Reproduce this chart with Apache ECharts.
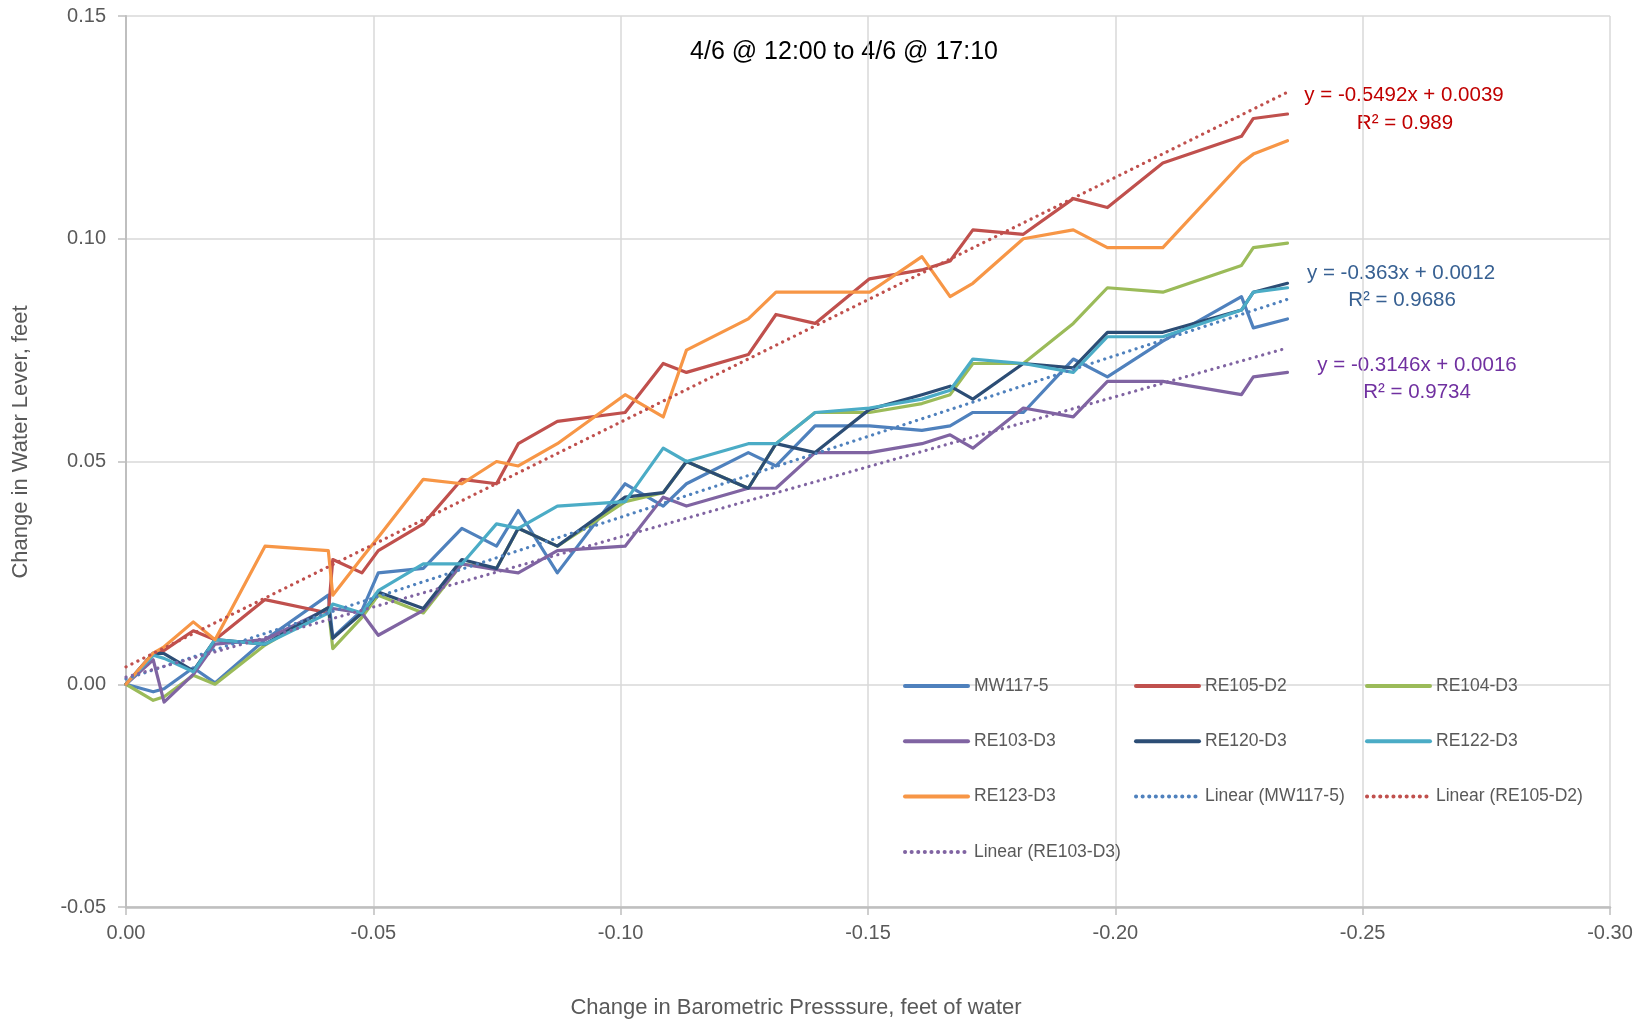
<!DOCTYPE html>
<html>
<head>
<meta charset="utf-8">
<script src="https://cdn.jsdelivr.net/npm/echarts@6/dist/echarts.min.js"></script>
<style>
html,body{margin:0;padding:0;background:#fff;}
#chart{width:1648px;height:1024px;}
</style>
</head>
<body>
<div id="chart"></div>
<script>
// Change in barometric pressure (feet of water) - shared x values
const xVals = [0, -0.0055, -0.0077, -0.0136, -0.018, -0.0281, -0.0409, -0.0418, -0.0477, -0.051,
  -0.0601, -0.0679, -0.0749, -0.0793, -0.0872, -0.1009, -0.1086, -0.1133, -0.1258, -0.1314,
  -0.1393, -0.1503, -0.1609, -0.1666, -0.1712, -0.1814, -0.1915, -0.1984, -0.2096, -0.2255,
  -0.2279, -0.2348];

// Change in water level (feet)
const mw117_5 = [0, -0.0017, -0.001, 0.0037, 0.0003, 0.010, 0.020, 0.0105, 0.0166, 0.025,
  0.026, 0.035, 0.031, 0.039, 0.025, 0.045, 0.040, 0.045, 0.052, 0.049,
  0.058, 0.058, 0.057, 0.058, 0.061, 0.061, 0.073, 0.069, 0.077, 0.087,
  0.080, 0.082];
const re105_d2 = [0, 0.0069, 0.0076, 0.012, 0.010, 0.019, 0.016, 0.028, 0.025, 0.030,
  0.036, 0.046, 0.045, 0.054, 0.059, 0.061, 0.072, 0.070, 0.074, 0.083,
  0.081, 0.091, 0.093, 0.095, 0.102, 0.101, 0.109, 0.107, 0.117, 0.123,
  0.127, 0.128];
const re104_d3 = [0, -0.0036, -0.0028, 0.002, 0, 0.0088, 0.0172, 0.008, 0.015, 0.020,
  0.016, 0.027, 0.026, 0.035, 0.031, 0.041, 0.043, 0.050, 0.044, 0.054,
  0.061, 0.061, 0.063, 0.065, 0.072, 0.072, 0.081, 0.089, 0.088, 0.094,
  0.098, 0.099];
const re103_d3 = [0, 0.0055, -0.004, 0.0022, 0.009, 0.010, 0.017, 0.017, 0.016, 0.011,
  0.0166, 0.027, 0.0257, 0.025, 0.030, 0.031, 0.042, 0.040, 0.044, 0.044,
  0.052, 0.052, 0.054, 0.056, 0.053, 0.062, 0.060, 0.068, 0.068, 0.065,
  0.069, 0.070];
const re120_d3 = [0, 0.007, 0.0069, 0.003, 0.010, 0.009, 0.0172, 0.0103, 0.016, 0.0207,
  0.017, 0.028, 0.026, 0.035, 0.031, 0.042, 0.043, 0.050, 0.044, 0.054,
  0.052, 0.0617, 0.065, 0.0669, 0.064, 0.072, 0.071, 0.079, 0.079, 0.084,
  0.088, 0.090];
const re122_d3 = [0, 0.0065, 0.0058, 0.0028, 0.010, 0.009, 0.016, 0.018, 0.016, 0.021,
  0.027, 0.027, 0.036, 0.035, 0.040, 0.041, 0.053, 0.050, 0.054, 0.054,
  0.061, 0.062, 0.064, 0.066, 0.073, 0.072, 0.070, 0.078, 0.078, 0.084,
  0.088, 0.089];
const re123_d3 = [0, 0.007, 0.0084, 0.014, 0.010, 0.031, 0.030, 0.020, 0.0284, 0.033,
  0.046, 0.045, 0.050, 0.049, 0.054, 0.065, 0.060, 0.075, 0.082, 0.088,
  0.088, 0.088, 0.096, 0.087, 0.090, 0.100, 0.102, 0.098, 0.098, 0.117,
  0.119, 0.122];

// Trendline end points (x, y)
const trendX = [0, -0.2348];
const trendMW117_5 = [0.0012, 0.0864];
const trendRE105_D2 = [0.0039, 0.1329];
const trendRE103_D3 = [0.0016, 0.0755];

// Trendline equation labels
const eqRE105 = ['y = -0.5492x + 0.0039', 'R² = 0.989'];
const eqMW117 = ['y = -0.363x + 0.0012', 'R² = 0.9686'];
const eqRE103 = ['y = -0.3146x + 0.0016', 'R² = 0.9734'];

// Axis ticks
const xTicks = [0, -0.05, -0.10, -0.15, -0.20, -0.25, -0.30];
const yTicks = [-0.05, 0, 0.05, 0.10, 0.15];

const titleText = '4/6 @ 12:00 to 4/6 @ 17:10';
const xName = 'Change in Barometric Presssure, feet of water';
const yName = 'Change in Water Lever, feet';

const FONT = "'Liberation Sans', Arial, sans-serif";
const GREY = '#595959';

function pairs(ys) { return xVals.map((x, i) => [x, ys[i]]); }
function tpairs(ys) { return trendX.map((x, i) => [x, ys[i]]); }

const solid = [
  ['MW117-5', mw117_5, '#4F81BD'],
  ['RE105-D2', re105_d2, '#C0504D'],
  ['RE104-D3', re104_d3, '#9BBB59'],
  ['RE103-D3', re103_d3, '#8064A2'],
  ['RE120-D3', re120_d3, '#2C4D75'],
  ['RE122-D3', re122_d3, '#4BACC6'],
  ['RE123-D3', re123_d3, '#F79646']
];
const trends = [
  ['Linear (MW117-5)', trendMW117_5, '#4F81BD'],
  ['Linear (RE105-D2)', trendRE105_D2, '#C0504D'],
  ['Linear (RE103-D3)', trendRE103_D3, '#8064A2']
];

const series = [];
solid.forEach(s => series.push({
  name: s[0], type: 'line', data: pairs(s[1]), symbol: 'none', smooth: false,
  lineStyle: { color: s[2], width: 3.2, cap: 'round', join: 'round' }, itemStyle: { color: s[2] },
  animation: false
}));
trends.forEach(s => series.push({
  name: s[0], type: 'line', data: tpairs(s[1]), symbol: 'none',
  lineStyle: { color: s[2], width: 3.2, type: [0.1, 6.5], cap: 'round' }, itemStyle: { color: s[2] },
  animation: false, z: 3
}));

function legendCol(left, names) {
  return {
    orient: 'vertical', left: left, top: 672, itemWidth: 63, itemHeight: 18, itemGap: 37.3,
    data: names,
    textStyle: { fontFamily: FONT, fontSize: 17.5, color: GREY, padding: [0, 0, 0, 1] },
    lineStyle: { width: 4 }, itemStyle: { opacity: 0 }
  };
}

function eqText(x, y, txt, color) {
  return { type: 'text', x: x, y: y, style: { text: txt, font: '20.5px ' + FONT, fill: color, textAlign: 'center', textVerticalAlign: 'middle' } };
}

const option = {
  backgroundColor: '#fff',
  animation: false,
  grid: { left: 126, right: 38, top: 16, bottom: 117, containLabel: false },
  xAxis: {
    type: 'value', min: -0.3, max: 0, interval: 0.05, inverse: true,
    axisLine: { show: true, onZero: false, lineStyle: { color: '#BFBFBF', width: 2.5 } },
    axisTick: { show: true, length: 8, lineStyle: { color: '#BFBFBF', width: 1.5 } },
    axisLabel: { margin: 16, color: GREY, fontFamily: FONT, fontSize: 20, formatter: v => v.toFixed(2) },
    splitLine: { show: true, lineStyle: { color: '#D9D9D9', width: 1.5 } }
  },
  yAxis: {
    type: 'value', min: -0.05, max: 0.15, interval: 0.05,
    axisLine: { show: true, onZero: false, lineStyle: { color: '#BFBFBF', width: 2 } },
    axisTick: { show: true, length: 8, lineStyle: { color: '#BFBFBF', width: 1.5 } },
    axisLabel: { margin: 20, color: GREY, fontFamily: FONT, fontSize: 20, formatter: v => v.toFixed(2) },
    splitLine: { show: true, lineStyle: { color: '#D9D9D9', width: 1.5 } }
  },
  legend: [
    legendCol(898, ['MW117-5', 'RE103-D3', 'RE123-D3', 'Linear (RE103-D3)']),
    legendCol(1129, ['RE105-D2', 'RE120-D3', 'Linear (MW117-5)']),
    legendCol(1360, ['RE104-D3', 'RE122-D3', 'Linear (RE105-D2)'])
  ],
  graphic: [
    { type: 'text', x: 844, y: 52, style: { text: titleText, font: '25px ' + FONT, fill: '#000', textAlign: 'center', textVerticalAlign: 'middle' } },
    { type: 'text', x: 796, y: 1008, style: { text: xName, font: '22px ' + FONT, fill: GREY, textAlign: 'center', textVerticalAlign: 'middle' } },
    { type: 'text', x: 21, y: 442, rotation: Math.PI / 2, style: { text: yName, font: '22px ' + FONT, fill: GREY, textAlign: 'center', textVerticalAlign: 'middle' } },
    eqText(1404, 95, eqRE105[0], '#C00000'),
    eqText(1405, 123, eqRE105[1], '#C00000'),
    eqText(1401, 273, eqMW117[0], '#376092'),
    eqText(1402, 300, eqMW117[1], '#376092'),
    eqText(1417, 365, eqRE103[0], '#7030A0'),
    eqText(1417, 392, eqRE103[1], '#7030A0')
  ],
  series: series
};

const chart = echarts.init(document.getElementById('chart'), null, { renderer: 'canvas' });
chart.setOption(option);
</script>
</body>
</html>
